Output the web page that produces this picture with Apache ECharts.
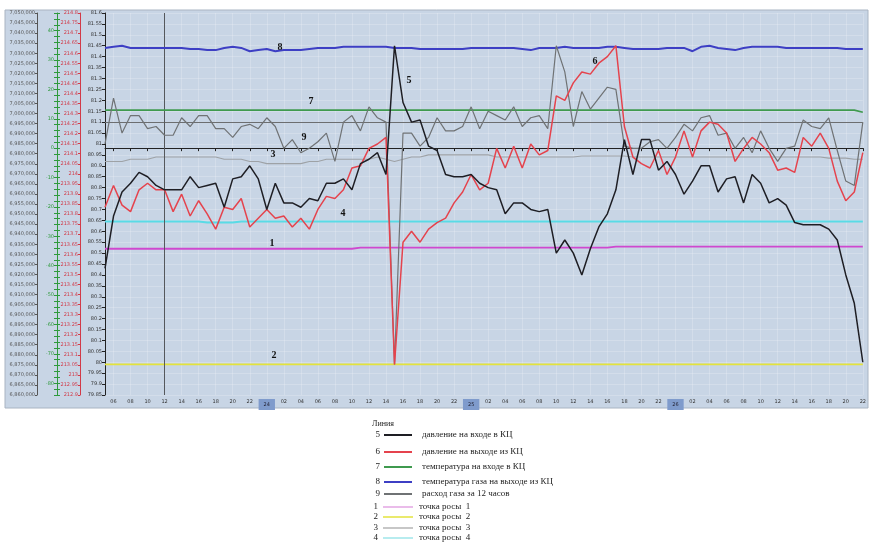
<!DOCTYPE html>
<html><head><meta charset="utf-8">
<script src="https://cdn.jsdelivr.net/npm/echarts@6/dist/echarts.min.js"></script>
<style>html,body{margin:0;padding:0;background:#fff}#c{width:869px;height:547px}</style>
</head><body><div id="c"></div>
<script>
// ---------- data ----------
const hours = ["05","06","07","08","09","10","11","12","13","14","15","16","17","18","19","20","21","22","23","24",
"01","02","03","04","05","06","07","08","09","10","11","12","13","14","15","16","17","18","19","20","21","22","23","25",
"01","02","03","04","05","06","07","08","09","10","11","12","13","14","15","16","17","18","19","20","21","22","23","26",
"01","02","03","04","05","06","07","08","09","10","11","12","13","14","15","16","17","18","19","20","21","22"];
const dayIndex = [19, 43, 67];

// 5 давление на входе в КЦ
const pressureIn = [80.43,80.67,80.78,80.82,80.87,80.85,80.81,80.79,80.79,80.79,
80.85,80.80,80.81,80.82,80.71,80.84,80.85,80.90,80.84,80.70,
80.82,80.73,80.73,80.71,80.75,80.74,80.82,80.82,80.84,80.79,
80.91,80.93,80.96,80.86,81.45,81.19,81.10,81.11,80.99,80.97,
80.86,80.85,80.85,80.86,80.82,80.80,80.79,80.68,80.73,80.73,
80.70,80.69,80.70,80.50,80.56,80.50,80.40,80.52,80.62,80.68,
80.79,81.02,80.86,81.02,81.02,80.88,80.92,80.86,80.77,80.83,
80.90,80.90,80.78,80.84,80.85,80.73,80.86,80.82,80.73,80.75,
80.72,80.64,80.63,80.63,80.63,80.61,80.56,80.40,80.27,80.00];
// 6 давление на выходе из КЦ
const pressureOut = [80.71,80.81,80.72,80.69,80.79,80.82,80.79,80.79,80.69,80.77,
80.67,80.74,80.68,80.61,80.71,80.70,80.75,80.62,80.66,80.70,
80.66,80.67,80.62,80.66,80.61,80.70,80.76,80.75,80.79,80.89,
80.90,80.98,81.00,81.03,79.99,80.55,80.60,80.55,80.61,80.64,
80.66,80.73,80.78,80.86,80.79,80.82,80.98,80.89,80.99,80.89,
81.00,80.95,80.97,81.22,81.20,81.28,81.33,81.32,81.37,81.40,
81.45,81.08,80.94,80.91,80.89,80.97,80.86,80.94,81.06,80.94,
81.06,81.10,81.09,81.05,80.92,80.98,81.03,81.00,80.96,80.88,
80.89,80.87,81.03,80.99,81.05,80.98,80.83,80.74,80.78,80.96];
// 7 температура на входе в КЦ
const tempIn = [81.155,81.155,81.155,81.155,81.155,81.155,81.155,81.155,81.155,81.155,
81.155,81.155,81.155,81.155,81.155,81.155,81.155,81.155,81.155,81.155,
81.155,81.155,81.155,81.155,81.155,81.155,81.155,81.155,81.155,81.155,
81.155,81.155,81.155,81.155,81.155,81.155,81.155,81.155,81.155,81.155,
81.155,81.155,81.155,81.155,81.155,81.155,81.155,81.155,81.155,81.155,
81.155,81.155,81.155,81.155,81.155,81.155,81.155,81.155,81.155,81.155,
81.155,81.155,81.155,81.155,81.155,81.155,81.155,81.155,81.155,81.155,
81.155,81.155,81.155,81.155,81.155,81.155,81.155,81.155,81.155,81.155,
81.155,81.155,81.155,81.155,81.155,81.155,81.155,81.155,81.155,81.145];
// 8 температура газа на выходе из КЦ
const tempOut = [81.44,81.445,81.45,81.44,81.44,81.44,81.44,81.44,81.44,81.44,
81.435,81.435,81.43,81.43,81.44,81.445,81.44,81.425,81.43,81.435,
81.425,81.43,81.43,81.43,81.435,81.44,81.44,81.44,81.445,81.445,
81.445,81.445,81.445,81.445,81.44,81.44,81.44,81.435,81.435,81.435,
81.435,81.435,81.435,81.44,81.44,81.44,81.44,81.44,81.44,81.435,
81.43,81.44,81.44,81.44,81.445,81.44,81.44,81.44,81.44,81.445,
81.445,81.44,81.435,81.435,81.435,81.435,81.44,81.44,81.44,81.425,
81.445,81.45,81.44,81.435,81.43,81.44,81.445,81.445,81.445,81.445,
81.44,81.44,81.44,81.44,81.44,81.44,81.44,81.435,81.435,81.435];
// 9 расход газа за 12 часов
const gasFlow = [81.00,81.21,81.05,81.13,81.13,81.07,81.08,81.04,81.04,81.12,
81.08,81.13,81.13,81.07,81.07,81.03,81.08,81.09,81.07,81.12,
81.08,80.98,81.02,80.96,80.98,81.01,81.05,80.92,81.10,81.13,
81.06,81.17,81.12,81.10,79.99,81.05,81.05,80.99,81.03,81.12,
81.06,81.06,81.08,81.17,81.07,81.15,81.13,81.11,81.17,81.08,
81.12,81.13,81.07,81.45,81.33,81.08,81.24,81.16,81.21,81.26,
81.25,80.99,80.98,80.98,81.01,81.02,80.98,81.03,81.09,81.06,
81.12,81.13,81.04,81.05,80.98,81.03,80.96,81.06,80.98,80.92,
80.98,80.99,81.11,81.08,81.07,81.12,80.97,80.83,80.81,81.10];
// 1 точка росы 1
const dew1 = [80.52,80.52,80.52,80.52,80.52,80.52,80.52,80.52,80.52,80.52,
80.52,80.52,80.52,80.52,80.52,80.52,80.52,80.52,80.52,80.52,
80.52,80.52,80.52,80.52,80.52,80.52,80.52,80.52,80.52,80.52,
80.525,80.525,80.525,80.525,80.525,80.525,80.525,80.525,80.525,80.525,
80.525,80.525,80.525,80.525,80.525,80.525,80.525,80.525,80.525,80.525,
80.525,80.525,80.525,80.525,80.525,80.525,80.525,80.525,80.525,80.525,
80.53,80.53,80.53,80.53,80.53,80.53,80.53,80.53,80.53,80.53,
80.53,80.53,80.53,80.53,80.53,80.53,80.53,80.53,80.53,80.53,
80.53,80.53,80.53,80.53,80.53,80.53,80.53,80.53,80.53,80.53];
// 2 точка росы 2
const dew2 = [79.99,79.99,79.99,79.99,79.99,79.99,79.99,79.99,79.99,79.99,
79.99,79.99,79.99,79.99,79.99,79.99,79.99,79.99,79.99,79.99,
79.99,79.99,79.99,79.99,79.99,79.99,79.99,79.99,79.99,79.99,
79.99,79.99,79.99,79.99,79.99,79.99,79.99,79.99,79.99,79.99,
79.99,79.99,79.99,79.99,79.99,79.99,79.99,79.99,79.99,79.99,
79.99,79.99,79.99,79.99,79.99,79.99,79.99,79.99,79.99,79.99,
79.99,79.99,79.99,79.99,79.99,79.99,79.99,79.99,79.99,79.99,
79.99,79.99,79.99,79.99,79.99,79.99,79.99,79.99,79.99,79.99,
79.99,79.99,79.99,79.99,79.99,79.99,79.99,79.99,79.99,79.99];
// 3 точка росы 3
const dew3 = [80.92,80.92,80.92,80.93,80.93,80.93,80.94,80.94,80.94,80.94,
80.94,80.94,80.94,80.94,80.93,80.93,80.93,80.92,80.92,80.91,
80.91,80.91,80.91,80.91,80.92,80.92,80.93,80.93,80.93,80.93,
80.93,80.93,80.94,80.93,80.92,80.93,80.94,80.94,80.95,80.95,
80.95,80.95,80.95,80.95,80.95,80.95,80.94,80.94,80.94,80.94,
80.94,80.94,80.94,80.94,80.94,80.94,80.945,80.945,80.945,80.945,
80.945,80.945,80.94,80.94,80.94,80.94,80.94,80.94,80.94,80.94,
80.94,80.94,80.94,80.94,80.94,80.94,80.94,80.94,80.94,80.94,
80.94,80.94,80.94,80.94,80.94,80.935,80.935,80.935,80.93,80.93];
// 4 точка росы 4
const dew4 = [80.645,80.645,80.645,80.645,80.645,80.645,80.645,80.645,80.645,80.645,
80.645,80.645,80.64,80.64,80.64,80.64,80.645,80.645,80.645,80.645,
80.645,80.645,80.645,80.645,80.645,80.645,80.645,80.645,80.645,80.645,
80.645,80.645,80.645,80.645,80.645,80.645,80.645,80.645,80.645,80.645,
80.645,80.645,80.645,80.645,80.645,80.645,80.645,80.645,80.645,80.645,
80.645,80.645,80.645,80.645,80.645,80.645,80.645,80.645,80.645,80.645,
80.645,80.645,80.645,80.645,80.645,80.645,80.645,80.645,80.645,80.645,
80.645,80.645,80.645,80.645,80.645,80.645,80.645,80.645,80.645,80.645,
80.645,80.645,80.645,80.645,80.645,80.645,80.645,80.645,80.645,80.645];

const refLevel = 81.1;      // thin horizontal reference line
const cursorIndex = 7;      // vertical cursor line
const legendNums = ["5","6","7","8","9","1","2","3","4"];
const legendNames = ["давление на входе в КЦ","давление на выходе из КЦ","температура на входе в КЦ",
  "температура газа на выходе из КЦ","расход газа за 12 часов","точка росы  1","точка росы  2","точка росы  3","точка росы  4"];

// ---------- styles ----------
const style = {
  "5": {data: pressureIn, color: "#1e1e24", width: 1.5, z: 9},
  "6": {data: pressureOut, color: "#e5434d", width: 1.5, z: 8},
  "7": {data: tempIn, color: "#3f9a4f", width: 1.6, z: 5},
  "8": {data: tempOut, color: "#3d3fc4", width: 2, z: 6},
  "9": {data: gasFlow, color: "#6f7274", width: 1.2, z: 7},
  "1": {data: dew1, color: "#cf48cf", width: 1.8, z: 4, legendColor: "#e3a6e3"},
  "2": {data: dew2, color: "#e3e33c", width: 1.8, z: 4},
  "3": {data: dew3, color: "#9ea2a6", width: 1.1, z: 4, legendColor: "#b5b5b5"},
  "4": {data: dew4, color: "#59dbe6", width: 2, z: 4, legendColor: "#9fe6ea"}
};

const series = legendNums.map((n, k) => ({
  name: legendNames[k], type: "line", data: style[n].data, yAxisIndex: 0,
  symbol: "none", z: style[n].z, animation: false,
  lineStyle: {color: style[n].color, width: style[n].width},
  itemStyle: {color: style[n].color}
}));
series.push({
  type: "line", data: [], yAxisIndex: 0, symbol: "none", animation: false,
  markLine: {silent: true, symbol: "none", label: {show: false}, animation: false,
    data: [
      {yAxis: refLevel, lineStyle: {color: "#6c6e70", width: 1, type: "solid"}},
      {xAxis: cursorIndex, lineStyle: {color: "#55585c", width: 1, type: "solid"}}
    ]}
});

const tickFn = (i) => i % 2 === 1;
const gridLine = {show: true, lineStyle: {color: "rgba(255,255,255,0.2)", width: 1}};
const small = {fontSize: 5, fontFamily: "DejaVu Sans"};

// chart annotations (line numbers)
const annot = [["8",280,47],["7",311,101],["9",304,137],["3",273,154],["4",343,213],
  ["1",272,243],["2",274,355],["5",409,80],["6",595,61]];
const graphics = [
  {type: "rect", z: -100, shape: {x: 5, y: 10, width: 863, height: 398},
   style: {fill: "#c8d5e5", stroke: "#a9b4c2", lineWidth: 1}},
  {type: "text", x: 372, y: 420, style: {text: "Линия", fontSize: 8, fontFamily: "Liberation Serif", fill: "#222"}}
];
annot.forEach(a => graphics.push({type: "text", z: 100, x: a[1], y: a[2],
  style: {text: a[0], fontSize: 10, fontWeight: "bold", fontFamily: "Liberation Serif", fill: "#111",
    textAlign: "center", textVerticalAlign: "middle"}}));
const rowY = [435, 452, 467, 482, 494, 507, 517, 528, 538];
legendNums.forEach((n, k) => {
  const y = rowY[k];
  const big = k < 5;
  graphics.push({type: "text", x: big ? 380 : 378, y: y,
    style: {text: n, fontSize: 9, fontFamily: "Liberation Serif", fill: "#222", textAlign: "right", textVerticalAlign: "middle"}});
  graphics.push({type: "line", shape: {x1: big ? 384 : 383, y1: y, x2: big ? 412 : 413, y2: y},
    style: {stroke: style[n].legendColor || style[n].color, lineWidth: big ? 2 : 1.5}});
  graphics.push({type: "text", x: big ? 422 : 419, y: y,
    style: {text: legendNames[k], fontSize: 9, fontFamily: "Liberation Serif", fill: "#222", textVerticalAlign: "middle"}});
});

const chart = echarts.init(document.getElementById("c"), null, {renderer: "canvas"});
chart.setOption({
  animation: false,
  backgroundColor: "#ffffff",
  grid: {left: 105, right: 3, top: 13, bottom: 152, show: true, backgroundColor: "#c8d5e5", borderWidth: 0},
  xAxis: {
    type: "category", data: hours, boundaryGap: false,
    axisLine: {lineStyle: {color: "#222", width: 1}},
    axisTick: {interval: tickFn, length: 3, lineStyle: {color: "#222"}},
    splitLine: Object.assign({interval: tickFn}, gridLine),
    axisLabel: {interval: tickFn, fontSize: 5, color: "#333", margin: 4, fontFamily: "DejaVu Sans",
      formatter: (v, i) => dayIndex.includes(i) ? "{d|" + v + "}" : v,
      rich: {d: {fontSize: 5, color: "#223", backgroundColor: "#7f9bcc", padding: [3, 5]}}}
  },
  yAxis: [
    {type: "value", position: "left", min: 79.85, max: 81.6, interval: 0.05,
     axisLine: {show: true, lineStyle: {color: "#222"}}, axisTick: {show: true, length: 3, lineStyle: {color: "#222"}},
     splitLine: gridLine,
     axisLabel: Object.assign({color: "#333", margin: 3, formatter: v => String(+v.toFixed(2))}, small)},
    {type: "value", position: "left", offset: 25, min: 212.9, max: 214.8, interval: 0.05,
     axisLine: {show: true, lineStyle: {color: "#d23a48"}}, axisTick: {show: true, length: 2, lineStyle: {color: "#d23a48"}},
     splitLine: {show: false},
     axisLabel: Object.assign({color: "#d23a48", margin: 2, formatter: v => String(+v.toFixed(2))}, small)},
    {type: "value", position: "left", offset: 48, min: -84, max: 46, interval: 2,
     axisLine: {show: true, lineStyle: {color: "#2f9a3c"}}, axisTick: {show: true, length: 3, lineStyle: {color: "#2f9a3c"}},
     splitLine: {show: false},
     axisLabel: Object.assign({color: "#2f9a3c", margin: 3, formatter: v => (Math.round(v) % 10 === 0 ? String(Math.round(v)) : "")}, small)},
    {type: "value", position: "left", offset: 48, min: -84, max: 46, interval: 2,
     axisLine: {show: false}, axisTick: {show: true, inside: true, length: 3, lineStyle: {color: "#2f9a3c"}},
     splitLine: {show: false}, axisLabel: {show: false}},
    {type: "value", position: "left", offset: 68, min: 6860000, max: 7050000, interval: 5000,
     axisLine: {show: true, lineStyle: {color: "#555"}}, axisTick: {show: true, length: 2, lineStyle: {color: "#555"}},
     splitLine: {show: false},
     axisLabel: Object.assign({color: "#555", margin: 2, formatter: v => Math.round(v).toLocaleString("en-US")}, small)}
  ],
  series: series,
  graphic: graphics
});
</script>
</body></html>
